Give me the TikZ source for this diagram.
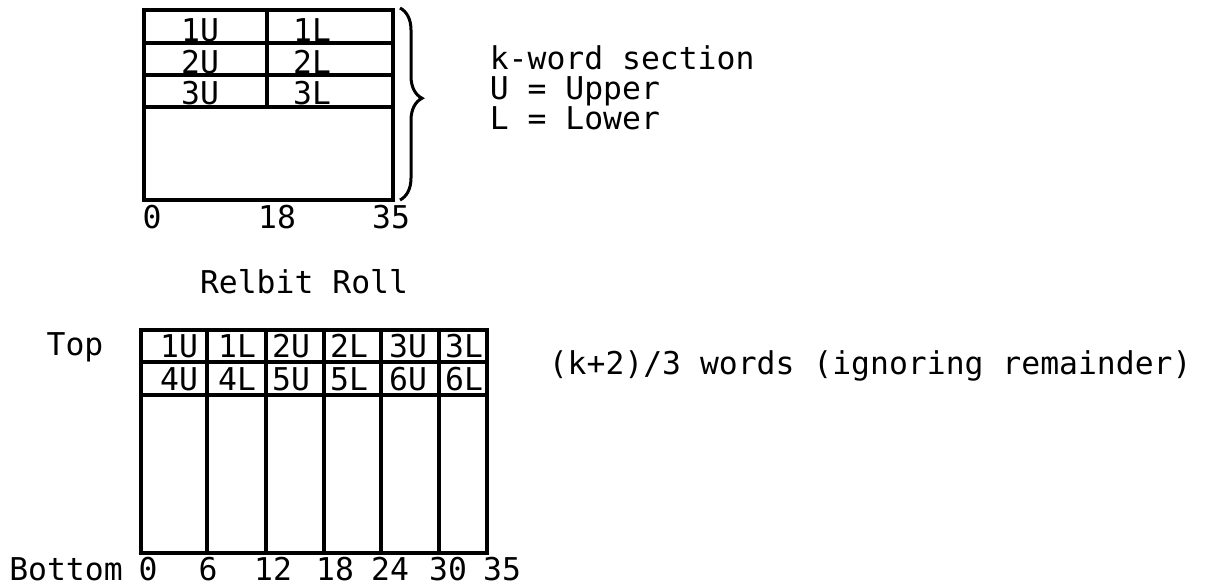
\documentclass[tikz,border=0pt]{standalone}
\usepackage{fontspec}
\setmonofont{DejaVu Sans Mono}
\usepackage{tikz}
\usetikzlibrary{decorations.pathreplacing}

\begin{document}
\begin{tikzpicture}[x=0.5pt, y=-0.5pt, line width=1.8pt,
    font=\ttfamily\fontsize{15.7}{18}\selectfont,
    txt/.style={inner sep=0pt, anchor=base},
    txtw/.style={inner sep=0pt, anchor=base west}]
  \useasboundingbox (0,0) rectangle (1205,585);
  % k-word section
  \draw (144,10) rectangle (393,200);
  \foreach \y in {43,75,107} \draw (144,\y) -- (393,\y);
  \draw (267,10) -- (267,107);
  \foreach \n/\y in {1/41,2/73,3/104} {
    \node[txt] (sec\n U) at (200,\y) {\n U};
    \node[txt] (sec\n L) at (312,\y) {\n L};
  }
  \node[txt] (secb0) at (152,228) {0};
  \node[txt] (secb18) at (277,228) {18};
  \node[txt] (secb35) at (391,228) {35};
  \coordinate (bracetop) at (400,8);
  \coordinate (bracebot) at (400,200);
  \draw[line width=1.5pt, decorate, decoration={brace, amplitude=11pt, aspect=0.47}]
    (bracetop) -- (bracebot);
  \node[txtw] (kword) at (488,69) {k-word section};
  \node[txtw] (upper) at (488,99) {U = Upper};
  \node[txtw] (lower) at (488,129) {L = Lower};
  % relbit roll
  \node[txt] (roll) at (304,293) {Relbit Roll};
  \draw (141,330) rectangle (487,553);
  \foreach \y in {362,395} \draw (141,\y) -- (487,\y);
  \foreach \x in {207,266,324,381,439} \draw (\x,330) -- (\x,553);
  \foreach \x/\a/\b in {179/1U/4U, 237/1L/4L, 291/2U/5U, 349/2L/5L, 408/3U/6U, 464/3L/6L} {
    \node[txt] (roll\a) at (\x,357) {\a};
    \node[txt] (roll\b) at (\x,390) {\b};
  }
  \node[txt] (top) at (75,355) {Top};
  \node[txt] (bottom) at (66,580) {Bottom};
  \foreach \x/\v in {148/0, 208/6, 273/12, 335/18, 390/24, 448/30, 502/35}
    \node[txt] (rollb\v) at (\x,580) {\v};
  \node[txtw] (words) at (547,374) {(k+2)/3 words (ignoring remainder)};
\end{tikzpicture}
\end{document}
